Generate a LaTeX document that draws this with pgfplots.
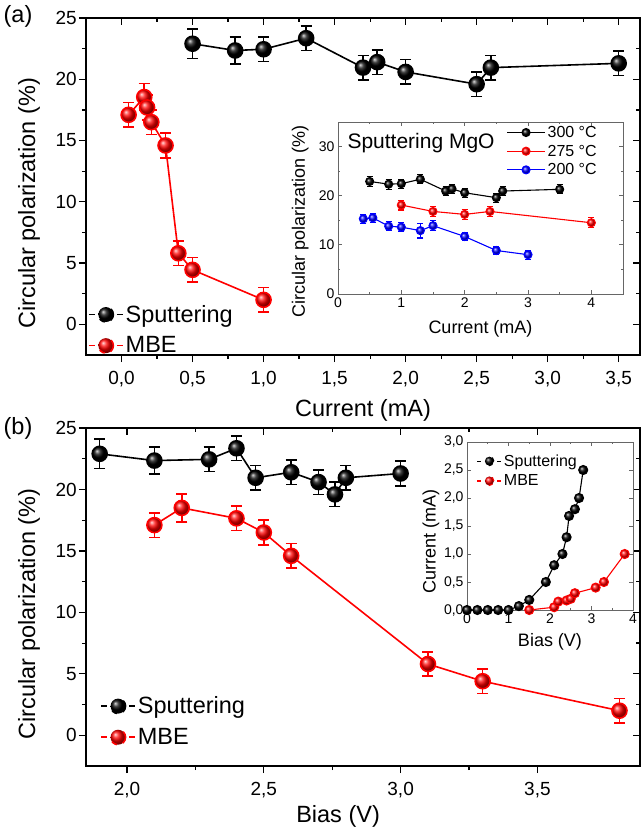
\documentclass[border=0pt]{standalone}
\usepackage{fontspec}
\setmainfont{Liberation Sans}
\usepackage{pgfplots}
\pgfplotsset{compat=1.18}
\definecolor{myred}{RGB}{255,0,0}
\definecolor{myblue}{RGB}{0,0,255}
\newcommand\fTick{\fontsize{19}{22}\selectfont}
\newcommand\fLab{\fontsize{23.5}{27}\selectfont}
\newcommand\fInTick{\fontsize{14}{16}\selectfont}
\newcommand\fInLab{\fontsize{18}{21}\selectfont}
\newcommand\fInLeg{\fontsize{16}{18}\selectfont}
\newcommand\fMgO{\fontsize{21}{24}\selectfont}
\pgfplotsset{
  mainax/.style={scale only axis, width=555pt, height=337pt, anchor=north west,
    ymin=-2.5, ymax=25, ytick={0,5,...,25}, minor y tick num=1, minor x tick num=1,
    axis line style={line width=1.2pt},
    major tick length=7pt, minor tick length=4pt,
    every tick/.style={line width=1.2pt, black},
    /pgf/number format/assume math mode=true,
    tick label style={font=\fTick},
    label style={font=\fLab},
    clip=false},
  mainbase/.style={mainax, xtick pos=left, ytick pos=left, tick align=outside,
    xticklabel style={yshift=-6pt, /pgf/number format/.cd, fixed, fixed zerofill, precision=1, use comma},
    yticklabel style={inner sep=2pt},
    legend style={draw=none, fill=none, font=\fLab, row sep=9pt},
    legend cell align=left,
    legend image code/.code={\draw[mark repeat=2,mark phase=2,dash pattern=on 6pt off 22pt on 6pt,#1] plot coordinates {(0pt,0pt) (17pt,0pt) (34pt,0pt)};}},
  mainover/.style={mainax, xtick pos=right, ytick pos=right, tick align=inside,
    xticklabels={}, yticklabels={}},
  bigmark/.style={line width=1.6pt, mark=ball, mark size=7.5pt,
    error bars/y dir=both, error bars/y explicit,
    error bars/error bar style={line width=1.6pt, solid},
    error bars/error mark options={rotate=90, mark size=5.5pt, line width=1.6pt}},
  smallmark/.style={line width=1.1pt, mark=ball, mark size=4pt,
    error bars/y dir=both, error bars/y explicit,
    error bars/error bar style={line width=1.1pt},
    error bars/error mark options={rotate=90, mark size=3pt, line width=1.1pt}},
  inset/.style={scale only axis, anchor=north west, tick align=inside,
    axis line style={black!60, line width=0.8pt},
    every tick/.style={black!60, line width=0.8pt},
    major tick length=4pt, minor tick length=2pt,
    /pgf/number format/assume math mode=true,
    tick label style={font=\fInTick}, label style={font=\fInLab},
    axis background/.style={fill=white}, clip=false},
}
\begin{document}
\begin{tikzpicture}
\useasboundingbox (0pt,0pt) rectangle (642pt,-827pt);
% ---------------- panel (a) ----------------
\begin{axis}[mainbase, at={(86pt,-18pt)}, xmin=-0.25, xmax=3.65, xtick={0,0.5,...,3.5},
  width=554pt,
  xlabel={Current (mA)}, ylabel={Circular polarization (\%)},
  xlabel style={at={(axis description cs:0.5,-0.163)}, anchor=center},
  ylabel style={at={(axis description cs:-0.103,0.45)}, anchor=center},
  legend style={at={(axis description cs:-0.002,0.16)}, anchor=north west}]
\addplot[black, mark options={ball color=black}, bigmark] coordinates {
 (0.5,22.9) +- (0,1.2) (0.8,22.35) +- (0,1.1) (1.0,22.45) +- (0,1.0) (1.3,23.35) +- (0,1.0)
 (1.7,20.95) +- (0,1.0) (1.8,21.4) +- (0,1.0) (2.0,20.6) +- (0,1.0) (2.5,19.6) +- (0,1.0)
 (2.6,20.95) +- (0,1.0) (3.5,21.3) +- (0,1.0)};
\addlegendentry{Sputtering}
\addplot[myred, mark options={ball color=myred}, bigmark] coordinates {
 (0.05,17.1) +- (0,1.0) (0.16,18.55) +- (0,1.1) (0.18,17.7) +- (0,1.0) (0.21,16.5) +- (0,1.0)
 (0.31,14.6) +- (0,1.0) (0.4,5.8) +- (0,1.0) (0.5,4.45) +- (0,1.0) (1.0,2.0) +- (0,1.0)};
\addlegendentry{MBE}
\end{axis}
\begin{axis}[mainover, at={(86pt,-18pt)}, width=554pt, xmin=-0.25, xmax=3.65, xtick={0,0.5,...,3.5}]
\end{axis}
\node[font=\fLab] at (18pt,-16pt) {(a)};
% inset (a)
\begin{axis}[inset, at={(338pt,-122pt)}, width=285pt, height=172pt,
  xmin=0, xmax=4.5, ymin=0, ymax=35, xtick={0,1,2,3,4}, ytick={0,10,20,30},
  minor x tick num=1, minor y tick num=1,
  xlabel={Current (mA)}, ylabel={Circular polarization (\%)},
  xlabel style={at={(axis description cs:0.5,-0.2)}, anchor=center},
  ylabel style={at={(axis description cs:-0.133,0.42)}, anchor=center},
  legend style={at={(axis description cs:0.58,1.0)}, anchor=north west, draw=none, fill=none, font=\fInLeg, row sep=2pt},
  legend cell align=left,
  legend image code/.code={\draw[mark repeat=2,mark phase=2,#1] plot coordinates {(0pt,0pt) (19pt,0pt) (38pt,0pt)};}]
\addplot[black, mark options={ball color=black}, smallmark] coordinates {
 (0.5,22.9) +- (0,1.0) (0.8,22.35) +- (0,1.0) (1.0,22.45) +- (0,0.9) (1.3,23.35) +- (0,0.9)
 (1.7,20.95) +- (0,0.9) (1.8,21.4) +- (0,0.9) (2.0,20.6) +- (0,0.9) (2.5,19.6) +- (0,0.9)
 (2.6,20.95) +- (0,0.9) (3.5,21.3) +- (0,0.9)};
\addlegendentry{300 °C}
\addplot[myred, mark options={ball color=myred}, smallmark] coordinates {
 (1.0,18.1) +- (0,1.0) (1.5,16.8) +- (0,1.0) (2.0,16.2) +- (0,1.0) (2.4,16.8) +- (0,1.0) (4.0,14.5) +- (0,1.0)};
\addlegendentry{275 °C}
\addplot[myblue, mark options={ball color=myblue}, smallmark] coordinates {
 (0.4,15.3) +- (0,0.9) (0.55,15.5) +- (0,0.9) (0.8,13.8) +- (0,0.9) (1.0,13.6) +- (0,0.9)
 (1.3,12.9) +- (0,1.5) (1.5,13.9) +- (0,1.0) (2.0,11.7) +- (0,0.9) (2.5,8.85) +- (0,0.9) (3.0,8.0) +- (0,0.9)};
\addlegendentry{200 °C}
\end{axis}
\node[font=\fMgO, anchor=west] at (344pt,-143pt) {Sputtering MgO};
% ---------------- panel (b) ----------------
\begin{axis}[mainbase, at={(86pt,-428pt)}, width=554pt, height=338pt, xmin=1.85, xmax=3.875, xtick={2,2.5,3,3.5},
  xlabel={Bias (V)}, ylabel={Circular polarization (\%)},
  xlabel style={at={(axis description cs:0.455,-0.15)}, anchor=center},
  ylabel style={at={(axis description cs:-0.103,0.45)}, anchor=center},
  legend style={at={(axis description cs:0.02,0.217)}, anchor=north west}]
\addplot[black, mark options={ball color=black}, bigmark] coordinates {
 (1.9,22.9) +- (0,1.2) (2.1,22.35) +- (0,1.1) (2.3,22.45) +- (0,1.0) (2.4,23.35) +- (0,1.0)
 (2.47,20.95) +- (0,1.0) (2.6,21.4) +- (0,1.0) (2.7,20.6) +- (0,1.0) (2.76,19.6) +- (0,1.0)
 (2.8,20.95) +- (0,1.0) (3.0,21.3) +- (0,1.0)};
\addlegendentry{Sputtering}
\addplot[myred, mark options={ball color=myred}, bigmark] coordinates {
 (2.1,17.1) +- (0,1.0) (2.2,18.5) +- (0,1.15) (2.4,17.65) +- (0,1.0) (2.5,16.5) +- (0,1.0)
 (2.6,14.6) +- (0,1.0) (3.1,5.8) +- (0,1.0) (3.3,4.4) +- (0,1.0) (3.8,2.0) +- (0,1.0)};
\addlegendentry{MBE}
\end{axis}
\begin{axis}[mainover, at={(86pt,-428pt)}, width=554pt, height=338pt, xmin=1.85, xmax=3.875, xtick={2,2.5,3,3.5}]
\end{axis}
\node[font=\fLab] at (18pt,-428pt) {(b)};
% inset (b)
\begin{axis}[inset, at={(467pt,-442pt)}, width=166pt, height=168pt,
  xmin=0, xmax=4, ymin=0, ymax=3, xtick={0,1,2,3,4}, ytick={0,0.5,...,3},
  minor x tick num=1,
  yticklabel style={/pgf/number format/.cd, fixed, fixed zerofill, precision=1, use comma},
  xlabel={Bias (V)}, ylabel={Current (mA)},
  xlabel style={at={(axis description cs:0.5,-0.19)}, anchor=center},
  ylabel style={at={(axis description cs:-0.217,0.41)}, anchor=center},
  legend style={at={(axis description cs:0.04,0.95)}, anchor=north west, draw=none, fill=none, font=\fInLeg, row sep=3pt},
  legend cell align=left,
  legend image code/.code={\draw[mark repeat=2,mark phase=2,dash pattern=on 4pt off 16pt on 4pt,#1] plot coordinates {(0pt,0pt) (12pt,0pt) (24pt,0pt)};}]
\addplot[black, line width=1.1pt, mark=ball, mark size=4.5pt, mark options={ball color=black}] coordinates {
 (0,0) (0.25,0) (0.5,0) (0.75,0) (1.0,0) (1.25,0.07) (1.5,0.18) (1.9,0.5) (2.1,0.8)
 (2.3,1.0) (2.4,1.3) (2.46,1.68) (2.6,1.8) (2.7,2.0) (2.8,2.5)};
\addlegendentry{Sputtering}
\addplot[myred, line width=1.1pt, mark=ball, mark size=4.5pt, mark options={ball color=myred}] coordinates {
 (1.5,0.0) (2.1,0.05) (2.2,0.15) (2.4,0.17) (2.5,0.2) (2.6,0.3) (3.1,0.4) (3.3,0.5) (3.8,1.0)};
\addlegendentry{MBE}
\end{axis}
\end{tikzpicture}
\end{document}
